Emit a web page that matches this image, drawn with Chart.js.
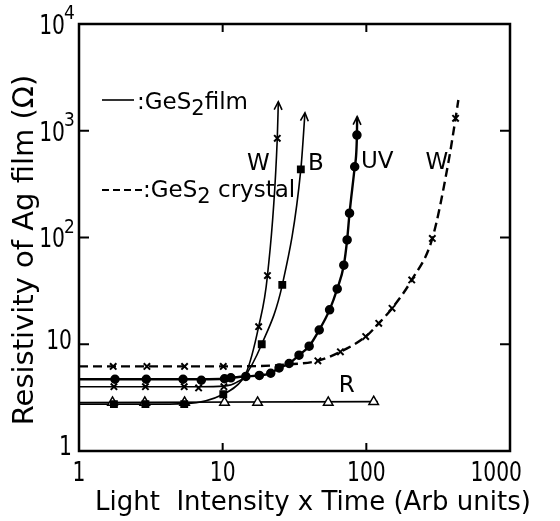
<!DOCTYPE html>
<html>
<head>
<meta charset="utf-8">
<script src="https://cdn.jsdelivr.net/npm/chart.js@4.4.0/dist/chart.umd.min.js"></script>
<style>
  html, body { margin: 0; padding: 0; background: #fff; }
</style>
</head>
<body>
<canvas id="chart" width="560" height="521"></canvas>
<script>
// values: x = light intensity x time, y = resistivity (ohm)
const xTicks = [1, 10, 100, 1000];
const yTicks = [1, 10, 100, 1000, 10000];

// W light, GeS2 film (solid)
const wFilmCurve = [[1, 4.0], [1.75, 4.0], [2.9, 4.0], [5.4, 4.0], [6.8, 4.0], [10.2, 4.05], [12.5, 4.4], [14.5, 5.3], [17.8, 14.6], [20.5, 44], [24, 850], [24.4, 1870]];
const wFilmMarks = [[1.75, 4.0], [2.9, 4.0], [5.4, 4.0], [6.8, 3.9], [10.2, 4.0], [17.8, 14.6], [20.5, 44], [24, 850]];

// B light, GeS2 film (solid)
const bCurve = [[1, 2.75], [1.75, 2.75], [2.9, 2.75], [5.6, 2.78], [10.1, 3.4], [13.8, 4.7], [18.7, 10], [26, 36], [35, 435], [37.4, 1470]];
const bMarks = [[1.75, 2.75], [2.9, 2.75], [5.4, 2.75], [10.1, 3.4], [18.7, 10], [26, 36], [35, 435]];

// UV light, GeS2 film (solid)
const uvCurve = [[1, 4.7], [1.78, 4.7], [2.94, 4.7], [5.3, 4.7], [7.1, 4.7], [10.3, 4.75], [11.4, 4.85], [14.5, 5.0], [18, 5.1], [21.6, 5.35], [24.7, 6.0], [29, 6.6], [34, 7.9], [40, 9.6], [47, 13.6], [55.5, 21], [62.7, 33], [69.7, 55], [73.5, 95], [76.4, 169], [83, 460], [86, 910], [86.3, 1355]];
const uvMarks = [[1.78, 4.7], [2.94, 4.7], [5.3, 4.7], [7.1, 4.6], [10.3, 4.75], [11.4, 4.85], [14.5, 5.0], [18, 5.1], [21.6, 5.35], [24.7, 6.0], [29, 6.6], [34, 7.9], [40, 9.6], [47, 13.6], [55.5, 21], [62.7, 33], [69.7, 55], [73.5, 95], [76.4, 169], [83, 460], [86, 910]];

// W light, GeS2 crystal (dashed)
const wCrystalCurve = [[1, 6.2], [1.73, 6.2], [2.97, 6.2], [5.43, 6.2], [10.1, 6.2], [18, 6.25], [27.5, 6.45], [46, 7.0], [66, 8.5], [99, 11.8], [122, 15.7], [151, 21.7], [207, 40], [288, 98], [372, 500], [418, 1308], [437, 1940]];
const wCrystalMarks = [[1.73, 6.2], [2.97, 6.2], [5.43, 6.2], [10.1, 6.2], [46, 7.0], [66, 8.5], [99, 11.8], [122, 15.7], [151, 21.7], [207, 40], [288, 98], [418, 1308]];

// R light, GeS2 film (solid)
const rCurve = [[1, 2.85], [120, 2.9]];
const rMarks = [[1.71, 2.85], [2.87, 2.85], [5.43, 2.85], [10.3, 2.85], [17.5, 2.85], [54.3, 2.85], [112.5, 2.9]];

// curve names and where they sit on the plot
const curveNames = ['W', 'B', 'UV', 'W', 'R'];
const curveNameX = [17.7, 44.6, 119, 310, 73];
const curveNameY = [493, 483, 504, 500, 4.06];

const toXY = arr => arr.map(p => ({ x: p[0], y: p[1] }));

function curve(data, opts) {
  return Object.assign({
    data: toXY(data),
    showLine: true,
    borderColor: '#000',
    borderWidth: 1.6,
    pointRadius: 0,
    pointHoverRadius: 0,
    cubicInterpolationMode: 'monotone',
    order: 2
  }, opts);
}

function marks(data, style, radius, opts) {
  return Object.assign({
    data: toXY(data),
    showLine: false,
    pointStyle: style,
    pointRadius: radius,
    pointHoverRadius: radius,
    pointBackgroundColor: '#000',
    pointBorderColor: '#000',
    pointBorderWidth: 1.5,
    order: 0
  }, opts);
}

const font = '"DejaVu Sans", sans-serif';

function text(ctx, str, x, y, size, align, sx) {
  ctx.save();
  ctx.font = size + 'px ' + font;
  ctx.textAlign = align || 'left';
  ctx.textBaseline = 'middle';
  ctx.translate(x, y);
  ctx.scale(sx || 1, 1);
  ctx.fillText(str, 0, 0);
  ctx.restore();
}

const decor = {
  id: 'decor',
  afterDatasetsDraw(chart) {
    const ctx = chart.ctx;
    const xs = chart.scales.x, ys = chart.scales.y;
    const a = chart.chartArea;
    ctx.save();
    ctx.strokeStyle = '#000';
    ctx.fillStyle = '#000';

    // arrow heads on the film curves that run off the top
    chart.data.datasets.forEach((ds, i) => {
      if (!ds.arrow) return;
      const pts = chart.getDatasetMeta(i).data;
      const p = pts[pts.length - 1], q = pts[pts.length - 2];
      const ang = Math.atan2(p.y - q.y, p.x - q.x);
      ctx.lineWidth = 1.6;
      ctx.beginPath();
      ctx.moveTo(p.x - 9 * Math.cos(ang - 0.45), p.y - 9 * Math.sin(ang - 0.45));
      ctx.lineTo(p.x, p.y);
      ctx.lineTo(p.x - 9 * Math.cos(ang + 0.45), p.y - 9 * Math.sin(ang + 0.45));
      ctx.stroke();
    });

    // frame
    ctx.lineWidth = 2.5;
    ctx.strokeRect(a.left, a.top, a.right - a.left, a.bottom - a.top);

    // inward decade ticks on all four sides
    ctx.lineWidth = 2;
    xTicks.slice(1, -1).forEach(v => {
      const px = xs.getPixelForValue(v);
      ctx.beginPath();
      ctx.moveTo(px, a.bottom); ctx.lineTo(px, a.bottom - 8);
      ctx.moveTo(px, a.top); ctx.lineTo(px, a.top + 8);
      ctx.stroke();
    });
    yTicks.slice(1, -1).forEach(v => {
      const py = ys.getPixelForValue(v);
      ctx.beginPath();
      ctx.moveTo(a.left, py); ctx.lineTo(a.left + 10, py);
      ctx.moveTo(a.right, py); ctx.lineTo(a.right - 10, py);
      ctx.stroke();
    });

    // tick labels
    xTicks.forEach((v, i) => {
      const px = xs.getPixelForValue(v);
      if (i === xTicks.length - 1) text(ctx, String(v), px + 12, a.bottom + 23, 26, 'right', 0.78);
      else text(ctx, String(v), px, a.bottom + 23, 26, 'center', 0.78);
    });
    yTicks.forEach(v => {
      const py = ys.getPixelForValue(v);
      const e = Math.round(Math.log10(v));
      if (e < 2) {
        text(ctx, String(v), a.left - 7, py - 2 + (e === 0 ? -1 : 0), 26, 'right', 0.78);
      } else {
        text(ctx, '10', a.left - 14, py + 3, 26, 'right', 0.78);
        text(ctx, String(e), a.left - 15, py - 10, 20, 'left', 0.85);
      }
    });

    // axis titles
    text(ctx, 'Light  Intensity x Time (Arb units)', 95, a.bottom + 52, 26, 'left', 1);
    ctx.save();
    ctx.translate(25, 250);
    ctx.rotate(-Math.PI / 2);
    text(ctx, 'Resistivity of Ag film (\u03a9)', 0, 0, 29, 'center', 1);
    ctx.restore();

    // curve names
    curveNames.forEach((n, i) => {
      text(ctx, n, xs.getPixelForValue(curveNameX[i]), ys.getPixelForValue(curveNameY[i]), 23, 'center', 1);
    });

    // key: solid = film, dashed = crystal
    ctx.lineWidth = 1.6;
    ctx.beginPath();
    ctx.moveTo(a.left + 23, 100); ctx.lineTo(a.left + 55, 100);
    ctx.stroke();
    ctx.lineWidth = 2;
    ctx.setLineDash([7, 4]);
    ctx.beginPath();
    ctx.moveTo(a.left + 23, 190); ctx.lineTo(a.left + 64, 190);
    ctx.stroke();
    ctx.setLineDash([]);
    ctx.font = '23px ' + font;
    let x0 = a.left + 58;
    text(ctx, ':GeS', x0, 103, 23, 'left', 1);
    let w = ctx.measureText(':GeS').width;
    text(ctx, '2', x0 + w, 110, 21, 'left', 1);
    ctx.font = '21px ' + font;
    let w2 = ctx.measureText('2').width;
    text(ctx, 'film', x0 + w + w2, 103, 23, 'left', 1);

    x0 = a.left + 64;
    text(ctx, ':GeS', x0, 191, 23, 'left', 1);
    text(ctx, '2', x0 + w, 198, 21, 'left', 1);
    text(ctx, ' crystal', x0 + w + w2, 191, 23, 'left', 1);

    ctx.restore();
  }
};

new Chart(document.getElementById('chart'), {
  type: 'scatter',
  data: {
    datasets: [
      curve(wFilmCurve, { arrow: true }),
      curve(bCurve, { arrow: true }),
      curve(uvCurve, { arrow: true, borderWidth: 2.4 }),
      curve(wCrystalCurve, { borderWidth: 2.4, borderDash: [9, 5] }),
      curve(rCurve, {}),
      marks(wFilmMarks, 'crossRot', 4.5, { pointBorderWidth: 2 }),
      marks(bMarks, 'rect', 4.5, {}),
      marks(uvMarks, 'circle', 4, {}),
      marks(wCrystalMarks, 'crossRot', 4.5, { pointBorderWidth: 2 }),
      marks(rMarks, 'triangle', 5.5, { pointBackgroundColor: '#fff' })
    ]
  },
  options: {
    responsive: false,
    animation: false,
    events: [],
    layout: { padding: { left: 79, top: 24, right: 50, bottom: 70 } },
    plugins: { legend: { display: false }, tooltip: { enabled: false } },
    scales: {
      x: { type: 'logarithmic', min: 1, max: 1000, display: false },
      y: { type: 'logarithmic', min: 1, max: 10000, display: false }
    }
  },
  plugins: [decor]
});
</script>
</body>
</html>
